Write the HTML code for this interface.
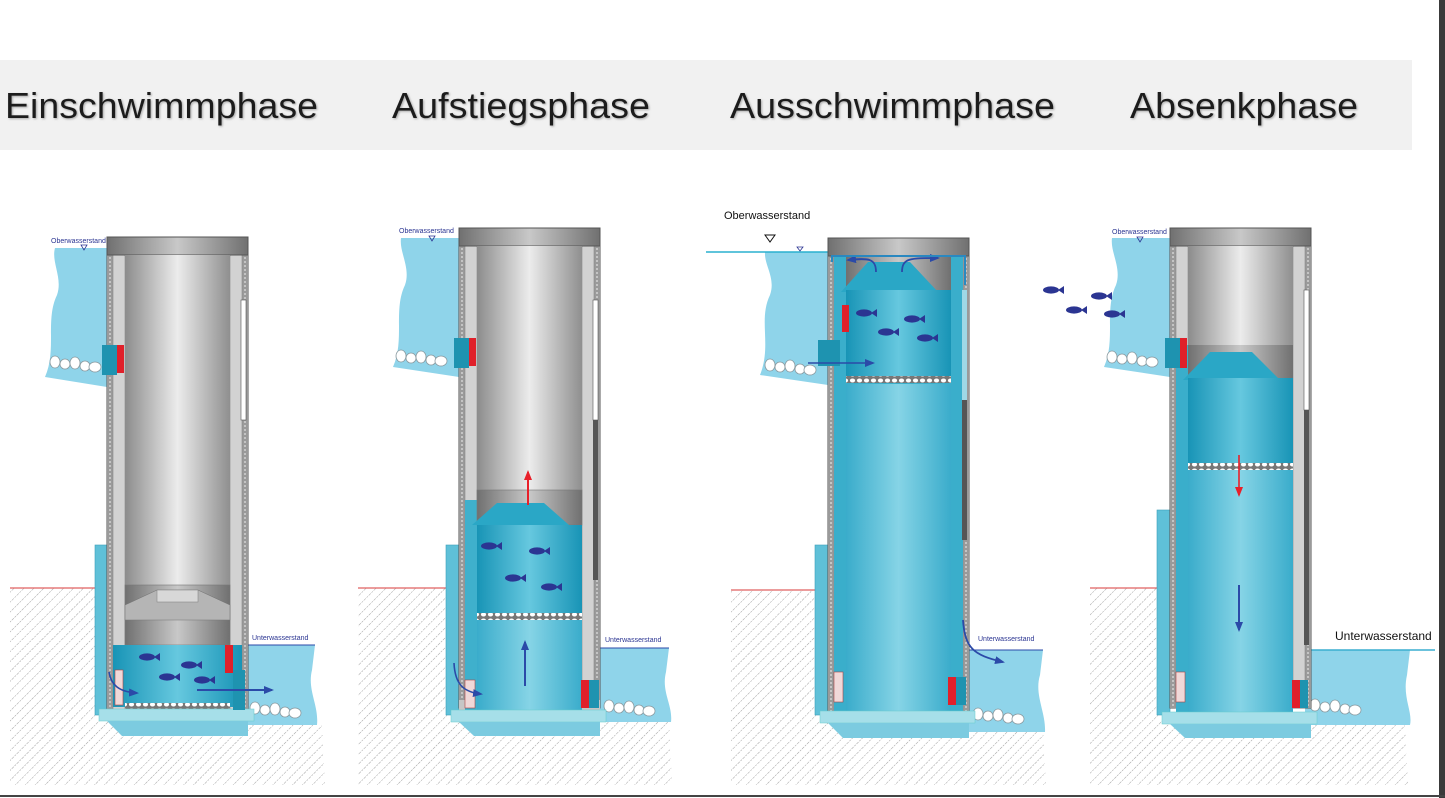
<!DOCTYPE html>
<html><head><meta charset="utf-8"><style>
html,body{margin:0;padding:0;background:#fff;width:1445px;height:798px;overflow:hidden}
svg{display:block}
text{font-family:"Liberation Sans",Arial,sans-serif}
</style></head><body>
<svg width="1445" height="798" viewBox="0 0 1445 798" xmlns="http://www.w3.org/2000/svg">
<defs>
<linearGradient id="metal" x1="0" x2="1" y1="0" y2="0">
<stop offset="0" stop-color="#8c8c8c"/><stop offset="0.5" stop-color="#ececec"/><stop offset="1" stop-color="#8f8f8f"/>
</linearGradient>
<linearGradient id="metalDark" x1="0" x2="1">
<stop offset="0" stop-color="#707070"/><stop offset="0.5" stop-color="#c8c8c8"/><stop offset="1" stop-color="#707070"/>
</linearGradient>
<linearGradient id="water" x1="0" x2="1">
<stop offset="0" stop-color="#1894b6"/><stop offset="0.5" stop-color="#66c8df"/><stop offset="1" stop-color="#1894b6"/>
</linearGradient>
<linearGradient id="waterL" x1="0" x2="1">
<stop offset="0" stop-color="#3aaccb"/><stop offset="0.5" stop-color="#86d4e6"/><stop offset="1" stop-color="#3aaccb"/>
</linearGradient>
<pattern id="hatch" width="7" height="7" patternUnits="userSpaceOnUse" patternTransform="rotate(45)">
<line x1="0" y1="0" x2="0" y2="7" stroke="#a0a0a0" stroke-width="1" stroke-dasharray="2 1"/>
</pattern>
<pattern id="grid" width="7" height="6" patternUnits="userSpaceOnUse">
<rect width="7" height="6" fill="#777"/><ellipse cx="3.5" cy="2.5" rx="2.6" ry="2" fill="#fff"/>
</pattern>
<filter id="sh" x="-5%" y="-20%" width="110%" height="140%"><feDropShadow dx="1" dy="1" stdDeviation="1" flood-color="#888" flood-opacity="0.7"/></filter>
<g id="fish"><ellipse cx="0" cy="0" rx="8" ry="3.6" fill="#2b3592"/><polygon points="7,0 13,-4 13,4" fill="#2b3592"/></g>
<g id="stones" fill="#fff" stroke="#8a9aa0" stroke-width="0.8">
<ellipse cx="0" cy="0" rx="5" ry="6"/><ellipse cx="10" cy="2" rx="5" ry="5"/><ellipse cx="20" cy="1" rx="5" ry="6"/><ellipse cx="30" cy="4" rx="5" ry="5"/><ellipse cx="40" cy="5" rx="6" ry="5"/>
</g>
<g id="shell">
<rect x="0" y="0" width="141" height="480" fill="#c6c6c6" stroke="#555" stroke-width="1"/>
<rect x="0" y="0" width="6" height="480" fill="#9a9a9a"/>
<rect x="135" y="0" width="6" height="480" fill="#9a9a9a"/>
<line x1="3" y1="0" x2="3" y2="480" stroke="#eee" stroke-dasharray="2 2"/>
<line x1="138" y1="0" x2="138" y2="480" stroke="#eee" stroke-dasharray="2 2"/>
<rect x="6" y="0" width="12" height="480" fill="#d2d2d2" stroke="#888" stroke-width="0.6"/>
<rect x="123" y="0" width="12" height="480" fill="#d2d2d2" stroke="#888" stroke-width="0.6"/>
<rect x="0" y="0" width="141" height="18" fill="url(#metalDark)" stroke="#555"/>
</g>
<marker id="ab" markerWidth="10" markerHeight="8" refX="8" refY="4" orient="auto" markerUnits="userSpaceOnUse"><polygon points="0,0 10,4 0,8" fill="#2b4aa8"/></marker>
<marker id="ar" markerWidth="10" markerHeight="8" refX="8" refY="4" orient="auto" markerUnits="userSpaceOnUse"><polygon points="0,0 10,4 0,8" fill="#e8202a"/></marker>
</defs>

<rect x="0" y="60" width="1412" height="90" fill="#f1f1f1"/>
<g fill="#1e1e1e" font-size="36" filter="url(#sh)">
<text x="5" y="118" textLength="313" lengthAdjust="spacingAndGlyphs">Einschwimmphase</text>
<text x="392" y="118" textLength="258" lengthAdjust="spacingAndGlyphs">Aufstiegsphase</text>
<text x="730" y="118" textLength="325" lengthAdjust="spacingAndGlyphs">Ausschwimmphase</text>
<text x="1130" y="118" textLength="228" lengthAdjust="spacingAndGlyphs">Absenkphase</text>
</g>
<rect x="1439" y="0" width="6" height="798" fill="#3a3a3a"/>
<line x1="0" y1="796" x2="1445" y2="796" stroke="#444" stroke-width="2"/>

<g transform="translate(107,0)">
<polygon points="-97,588 0,588 0,720 215,725 218,785 -97,785" fill="url(#hatch)"/>
<line x1="-97" y1="588" x2="0" y2="588" stroke="#e06060" stroke-width="1.2"/>
<path d="M-52,248 L0,248 L0,387 L-62,377 C-50,350 -62,320 -50,295 C-44,278 -56,262 -52,248Z" fill="#8fd4ea"/>
<use href="#stones" x="-52" y="362"/>
<text x="-56" y="243" font-size="7" fill="#2b3592">Oberwasserstand</text>
<polygon points="-26,245 -20,245 -23,250" fill="none" stroke="#2b3592" stroke-width="0.8"/>
<rect x="-12" y="545" width="12" height="170" fill="#5fc0d8" stroke="#3aa0bb" stroke-width="0.6"/>
<path d="M138,645 L208,645 L205,670 C200,690 212,705 210,725 L138,725Z" fill="#8fd4ea"/>
<line x1="138" y1="645" x2="208" y2="645" stroke="#2b4aa8" stroke-width="1"/>
<text x="145" y="640" font-size="7" fill="#2b3592">Unterwasserstand</text>
<use href="#stones" x="148" y="708"/>
<use href="#shell" y="237"/>
<rect x="18" y="255" width="105" height="330" fill="url(#metal)"/>
<rect x="18" y="585" width="105" height="60" fill="url(#metalDark)" stroke="#777" stroke-width="0.6"/>
<polygon points="18,605 50,590 91,590 123,605 123,620 18,620" fill="#b5b5b5" stroke="#777" stroke-width="0.6"/>
<rect x="50" y="590" width="41" height="12" fill="#d8d8d8" stroke="#888" stroke-width="0.6"/>
<rect x="6" y="645" width="129" height="62" fill="url(#water)"/>
<rect x="18" y="703" width="105" height="6" fill="url(#grid)"/>
<rect x="-8" y="709" width="155" height="12" fill="#a6dfe9" stroke="#6cc" stroke-width="0.5"/>
<polygon points="0,721 141,721 141,736 15,736" fill="#7ccbe0"/>
<rect x="118" y="645" width="8" height="28" fill="#e0202a"/>
<rect x="126" y="670" width="12" height="40" fill="#1e93b0"/>
<rect x="-5" y="345" width="15" height="30" fill="#1e93b0"/>
<rect x="10" y="345" width="7" height="28" fill="#e0202a"/>
<rect x="134" y="300" width="5" height="120" fill="#fff" stroke="#555" stroke-width="0.6"/>
<rect x="8" y="670" width="8" height="35" fill="#f0d8d8" stroke="#a44" stroke-width="0.6"/>
<use href="#fish" x="40" y="657"/><use href="#fish" x="82" y="665"/><use href="#fish" x="60" y="677"/><use href="#fish" x="95" y="680"/>
<path d="M2,672 C4,685 12,692 30,693" fill="none" stroke="#2b4aa8" stroke-width="1.6" marker-end="url(#ab)"/>
<line x1="90" y1="690" x2="165" y2="690" stroke="#2b4aa8" stroke-width="2" marker-end="url(#ab)"/>
</g>

<g transform="translate(459,0)">
<polygon points="-101,588 0,588 0,715 210,720 213,785 -101,785" fill="url(#hatch)"/>
<line x1="-101" y1="588" x2="0" y2="588" stroke="#e06060" stroke-width="1.2"/>
<path d="M-58,238 L0,238 L0,377 L-66,367 C-54,340 -66,310 -54,285 C-48,268 -60,252 -58,238Z" fill="#8fd4ea"/>
<use href="#stones" x="-58" y="356"/>
<text x="-60" y="233" font-size="7" fill="#2b3592">Oberwasserstand</text>
<polygon points="-30,236 -24,236 -27,241" fill="none" stroke="#2b3592" stroke-width="0.8"/>
<rect x="-13" y="545" width="13" height="170" fill="#5fc0d8" stroke="#3aa0bb" stroke-width="0.6"/>
<path d="M138,648 L210,648 L207,672 C202,692 214,705 212,722 L138,722Z" fill="#8fd4ea"/>
<line x1="138" y1="648" x2="210" y2="648" stroke="#2b4aa8" stroke-width="1"/>
<text x="146" y="642" font-size="7" fill="#2b3592">Unterwasserstand</text>
<use href="#stones" x="150" y="706"/>
<use href="#shell" y="228"/>
<rect x="0" y="700" width="141" height="15" fill="#c6c6c6"/>
<rect x="18" y="246" width="105" height="244" fill="url(#metal)"/>
<rect x="6" y="500" width="12" height="210" fill="#3fb0cc"/>
<rect x="18" y="490" width="105" height="35" fill="url(#metalDark)" stroke="#777" stroke-width="0.6"/>
<polygon points="38,503 85,503 110,525 13,525" fill="#2aa7c6"/>
<rect x="18" y="525" width="105" height="90" fill="url(#water)"/>
<rect x="18" y="613" width="105" height="7" fill="url(#grid)"/>
<rect x="18" y="620" width="105" height="92" fill="url(#waterL)"/>
<rect x="-8" y="710" width="155" height="12" fill="#a6dfe9" stroke="#6cc" stroke-width="0.5"/>
<polygon points="0,722 141,722 141,736 15,736" fill="#7ccbe0"/>
<rect x="122" y="680" width="8" height="28" fill="#e0202a"/>
<rect x="130" y="680" width="10" height="28" fill="#1e93b0"/>
<rect x="-5" y="338" width="15" height="30" fill="#1e93b0"/>
<rect x="10" y="338" width="7" height="28" fill="#e0202a"/>
<rect x="134" y="300" width="5" height="120" fill="#fff" stroke="#555" stroke-width="0.6"/>
<rect x="134" y="420" width="5" height="160" fill="#555"/>
<rect x="6" y="680" width="10" height="28" fill="#f0d8d8" stroke="#a44" stroke-width="0.6"/>
<use href="#fish" x="30" y="546"/><use href="#fish" x="78" y="551"/><use href="#fish" x="54" y="578"/><use href="#fish" x="90" y="587"/>
<line x1="69" y1="505" x2="69" y2="472" stroke="#e8202a" stroke-width="2" marker-end="url(#ar)"/>
<line x1="66" y1="686" x2="66" y2="642" stroke="#2b4aa8" stroke-width="2" marker-end="url(#ab)"/>
<path d="M-5,663 C-4,685 5,692 22,694" fill="none" stroke="#2b4aa8" stroke-width="1.6" marker-end="url(#ab)"/>
</g>

<g transform="translate(828,0)">
<polygon points="-97,590 0,590 0,720 215,728 218,785 -97,785" fill="url(#hatch)"/>
<line x1="-97" y1="590" x2="0" y2="590" stroke="#e06060" stroke-width="1.2"/>
<path d="M-63,252 L0,252 L0,385 L-68,375 C-56,345 -70,320 -58,295 C-52,278 -64,265 -63,252Z" fill="#8fd4ea"/>
<line x1="-122" y1="252" x2="0" y2="252" stroke="#2ab0cf" stroke-width="1.5"/>
<use href="#stones" x="-58" y="365"/>
<text x="-104" y="219" font-size="11" fill="#111">Oberwasserstand</text>
<polygon points="-63,235 -53,235 -58,242" fill="none" stroke="#111" stroke-width="1"/>
<polygon points="-31,247 -25,247 -28,251" fill="none" stroke="#2b3592" stroke-width="0.8"/>
<rect x="-13" y="545" width="13" height="170" fill="#5fc0d8" stroke="#3aa0bb" stroke-width="0.6"/>
<path d="M137,650 L215,650 L212,675 C206,695 218,712 217,732 L137,732Z" fill="#8fd4ea"/>
<line x1="137" y1="650" x2="215" y2="650" stroke="#2b4aa8" stroke-width="1"/>
<text x="150" y="641" font-size="7" fill="#2b3592">Unterwasserstand</text>
<use href="#stones" x="150" y="714"/>
<use href="#shell" y="238"/>
<rect x="6" y="256" width="129" height="459" fill="#3aaecb"/>
<rect x="18" y="256" width="105" height="35" fill="url(#metalDark)"/>
<polygon points="40,262 82,262 110,292 13,292" fill="#2aa7c6"/>
<rect x="18" y="290" width="105" height="88" fill="url(#water)"/>
<rect x="18" y="376" width="105" height="7" fill="url(#grid)"/>
<rect x="18" y="384" width="105" height="330" fill="url(#waterL)"/>
<rect x="-8" y="711" width="155" height="12" fill="#a6dfe9" stroke="#6cc" stroke-width="0.5"/>
<polygon points="0,723 141,723 141,738 15,738" fill="#7ccbe0"/>
<rect x="120" y="677" width="8" height="28" fill="#e0202a"/>
<rect x="128" y="677" width="10" height="28" fill="#1e93b0"/>
<rect x="-10" y="340" width="22" height="26" fill="#1e93b0"/>
<rect x="14" y="305" width="7" height="27" fill="#e0202a"/>
<rect x="134" y="290" width="5" height="110" fill="#9fd8e6"/>
<rect x="134" y="400" width="5" height="140" fill="#555"/>
<rect x="6" y="672" width="9" height="30" fill="#f0d8d8" stroke="#a44" stroke-width="0.6"/>
<use href="#fish" x="36" y="313"/><use href="#fish" x="84" y="319"/><use href="#fish" x="58" y="332"/><use href="#fish" x="97" y="338"/>
<line x1="-20" y1="363" x2="45" y2="363" stroke="#2b4aa8" stroke-width="1.6" marker-end="url(#ab)"/>
<path d="M48,272 C48,258 40,258 20,260" fill="none" stroke="#2b4aa8" stroke-width="1.8" marker-end="url(#ab)"/>
<path d="M74,272 C74,258 82,258 110,258" fill="none" stroke="#2b4aa8" stroke-width="1.8" marker-end="url(#ab)"/>
<path d="M4,262 L4,256 L137,256 L137,285" fill="none" stroke="#2a88c0" stroke-width="2"/>
<path d="M135,620 C137,648 145,655 175,662" fill="none" stroke="#2b4aa8" stroke-width="1.8" marker-end="url(#ab)"/>
</g>

<g transform="translate(1170,0)">
<polygon points="-80,588 0,588 0,718 235,725 238,785 -80,785" fill="url(#hatch)"/>
<line x1="-80" y1="588" x2="0" y2="588" stroke="#e06060" stroke-width="1.2"/>
<path d="M-58,238 L0,238 L0,377 L-66,367 C-54,340 -66,310 -54,285 C-48,268 -60,252 -58,238Z" fill="#8fd4ea"/>
<use href="#stones" x="-58" y="357"/>
<text x="-58" y="234" font-size="7" fill="#2b3592">Oberwasserstand</text>
<polygon points="-33,237 -27,237 -30,242" fill="none" stroke="#2b3592" stroke-width="0.8"/>
<rect x="-13" y="510" width="13" height="205" fill="#5fc0d8" stroke="#3aa0bb" stroke-width="0.6"/>
<path d="M135,650 L240,650 L237,675 C232,697 243,712 240,725 L135,725Z" fill="#8fd4ea"/>
<line x1="135" y1="650" x2="265" y2="650" stroke="#3aaed0" stroke-width="1.5"/>
<text x="165" y="640" font-size="12" fill="#111">Unterwasserstand</text>
<use href="#stones" x="145" y="705"/>
<use href="#shell" y="228"/>
<rect x="6" y="345" width="12" height="370" fill="#3aaecb"/>
<rect x="18" y="246" width="105" height="100" fill="url(#metal)"/>
<rect x="18" y="345" width="105" height="35" fill="url(#metalDark)"/>
<polygon points="40,352 82,352 110,380 13,380" fill="#2aa7c6"/>
<rect x="18" y="378" width="105" height="87" fill="url(#water)"/>
<rect x="18" y="463" width="105" height="7" fill="url(#grid)"/>
<rect x="18" y="470" width="105" height="245" fill="url(#waterL)"/>
<rect x="-8" y="712" width="155" height="12" fill="#a6dfe9" stroke="#6cc" stroke-width="0.5"/>
<polygon points="0,724 141,724 141,738 15,738" fill="#7ccbe0"/>
<rect x="122" y="680" width="8" height="28" fill="#e0202a"/>
<rect x="130" y="680" width="8" height="28" fill="#1e93b0"/>
<rect x="-5" y="338" width="15" height="30" fill="#1e93b0"/>
<rect x="10" y="338" width="7" height="30" fill="#e0202a"/>
<rect x="134" y="290" width="5" height="120" fill="#fff" stroke="#555" stroke-width="0.6"/>
<rect x="134" y="410" width="5" height="235" fill="#555"/>
<rect x="6" y="672" width="9" height="30" fill="#f0d8d8" stroke="#a44" stroke-width="0.6"/>
<line x1="69" y1="455" x2="69" y2="495" stroke="#e8202a" stroke-width="1.6" marker-end="url(#ar)"/>
<line x1="69" y1="585" x2="69" y2="630" stroke="#2b4aa8" stroke-width="2" marker-end="url(#ab)"/>
</g>
<use href="#fish" x="1051" y="290"/><use href="#fish" x="1099" y="296"/><use href="#fish" x="1074" y="310"/><use href="#fish" x="1112" y="314"/>
</svg>
</body></html>
